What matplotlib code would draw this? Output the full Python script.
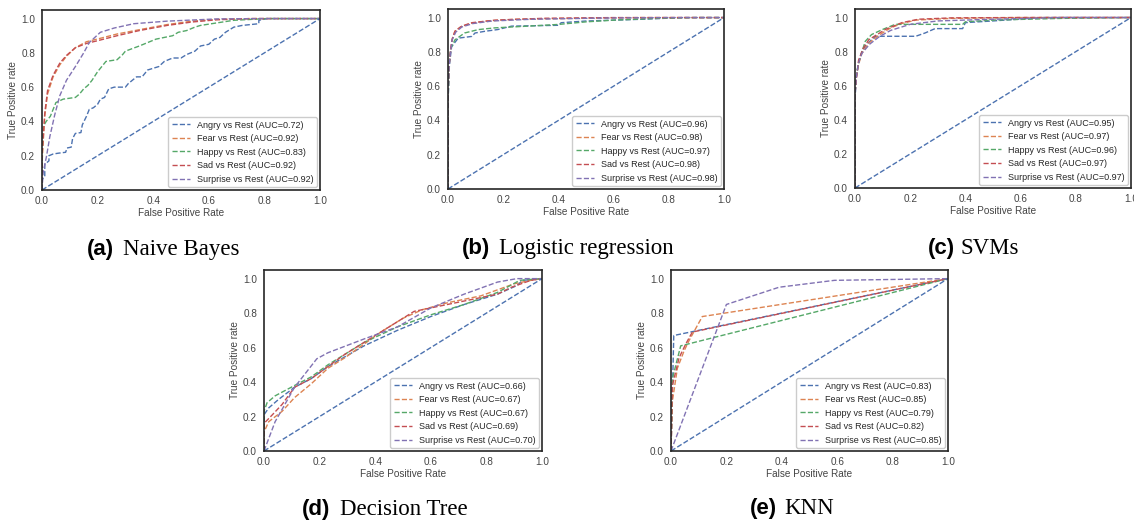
import numpy as np
import matplotlib
matplotlib.use("Agg")
import matplotlib.pyplot as plt

classes = ["Angry", "Fear", "Happy", "Sad", "Surprise"]
colors = ["#4c72b0", "#dd8452", "#55a868", "#c44e52", "#8172b3"]

# ---- (a) Naive Bayes: (fpr, tpr) points
nb_angry = [(0, 0), (0, .06), (.01, .08), (.01, .15), (.025, .17), (.025, .20), (.04, .21),
            (.06, .215), (.085, .22), (.09, .245), (.105, .25), (.11, .30), (.12, .33),
            (.14, .335), (.145, .38), (.16, .43), (.17, .47), (.185, .48), (.20, .50),
            (.21, .53), (.225, .54), (.24, .59), (.26, .60), (.30, .60), (.31, .62),
            (.34, .66), (.36, .66), (.38, .70), (.40, .71), (.42, .72), (.44, .75),
            (.47, .77), (.50, .77), (.52, .79), (.55, .81), (.57, .84), (.60, .85),
            (.62, .88), (.64, .89), (.66, .92), (.69, .95), (.72, .96), (.78, .97),
            (.78, .99), (.81, 1.0), (1, 1)]
nb_fear = [(0, 0), (0, .15), (.004, .27), (.01, .43), (.02, .56), (.04, .66), (.064, .73),
           (.088, .78), (.12, .83), (.16, .865), (.21, .885), (.27, .91), (.35, .935),
           (.45, .965), (.54, .985), (.63, .995), (.75, 1), (1, 1)]
nb_happy = [(0, 0), (0, .2), (.004, .37), (.015, .40), (.03, .43), (.04, .47), (.05, .51),
            (.076, .53), (.12, .54), (.135, .56), (.15, .59), (.165, .61), (.18, .64),
            (.20, .69), (.21, .71), (.23, .75), (.27, .76), (.29, .79), (.30, .81),
            (.35, .84), (.38, .86), (.41, .88), (.47, .90), (.49, .92), (.52, .93),
            (.55, .95), (.57, .96), (.63, .975), (.69, .99), (.81, 1.0), (1, 1)]
nb_sad = [(0, 0), (0, .2), (.004, .30), (.01, .45), (.02, .58), (.04, .67), (.064, .74),
          (.088, .785), (.12, .83), (.16, .855), (.21, .875), (.27, .90), (.35, .93),
          (.45, .96), (.54, .98), (.63, .993), (.75, 1), (1, 1)]
nb_surprise = [(0, 0), (.004, .1), (.016, .195), (.028, .31), (.046, .44), (.064, .55),
               (.088, .64), (.12, .72), (.15, .80), (.17, .86), (.21, .92), (.26, .945),
               (.33, .97), (.45, .985), (.63, .998), (.8, 1), (1, 1)]
nb_auc = [0.72, 0.92, 0.83, 0.92, 0.92]

# ---- (b) Logistic regression
lr_angry = [(0, 0), (0, .5), (.005, .72), (.013, .83), (.037, .88), (.086, .89), (.098, .91),
            (.134, .92), (.18, .93), (.23, .95), (.40, .955), (.41, .97), (.5, .98),
            (.7, .99), (.85, 1), (1, 1)]
lr_fear = [(0, 0), (0, .55), (.004, .72), (.01, .81), (.015, .87), (.025, .92), (.045, .945),
           (.08, .965), (.14, .98), (.24, .99), (.48, .996), (.7, 1), (1, 1)]
lr_happy = [(0, 0), (0, .5), (.005, .75), (.01, .82), (.025, .87), (.06, .91), (.11, .93),
            (.17, .94), (.29, .95), (.4, .96), (.5, .975), (.6, .985), (.75, .995),
            (.9, 1), (1, 1)]
lr_sad = [(0, 0), (0, .55), (.004, .73), (.01, .82), (.015, .875), (.025, .92), (.05, .95),
          (.086, .97), (.17, .985), (.35, .996), (.6, 1), (1, 1)]
lr_surprise = [(0, 0), (0, .55), (.004, .72), (.01, .81), (.015, .87), (.028, .915),
               (.05, .945), (.09, .965), (.16, .98), (.3, .99), (.55, .997), (.8, 1), (1, 1)]
lr_auc = [0.96, 0.98, 0.97, 0.98, 0.98]

# ---- (c) SVMs
svm_angry = [(0, 0), (0, .52), (.005, .65), (.015, .75), (.025, .8), (.04, .84), (.074, .89),
             (.22, .89), (.255, .91), (.29, .935), (.39, .935), (.40, .97), (.50, .98),
             (.68, 1), (1, 1)]
svm_fear = [(0, 0), (0, .55), (.004, .64), (.012, .72), (.025, .79), (.05, .85), (.09, .90),
            (.13, .94), (.17, .965), (.22, .985), (.35, .995), (.6, 1), (1, 1)]
svm_happy = [(0, 0), (0, .55), (.004, .65), (.012, .73), (.037, .86), (.06, .90), (.1, .93),
             (.146, .96), (.39, .96), (.40, .975), (.5, .985), (.75, .995), (1, 1)]
svm_sad = [(0, 0), (0, .55), (.004, .63), (.013, .75), (.03, .82), (.05, .87), (.11, .93),
           (.17, .97), (.23, .99), (.35, .998), (.6, 1), (1, 1)]
svm_surprise = [(0, 0), (0, .55), (.004, .64), (.012, .73), (.025, .79), (.054, .845),
                (.09, .89), (.13, .925), (.2, .96), (.3, .98), (.5, .99), (.75, 1), (1, 1)]
svm_auc = [0.95, 0.97, 0.96, 0.97, 0.97]

# ---- (d) Decision Tree
dt_angry = [(0, 0), (0, .21), (.017, .25), (.053, .30), (.11, .37), (.17, .42), (.23, .49),
            (.36, .61), (.48, .70), (.60, .78), (.72, .85), (.84, .91), (.91, .96),
            (.93, .99), (1, 1)]
dt_fear = [(0, 0), (0, .11), (.017, .17), (.065, .23), (.11, .31), (.17, .39), (.23, .48),
           (.29, .54), (.36, .62), (.42, .69), (.50, .77), (.57, .82), (.66, .86),
           (.78, .90), (.90, .97), (.96, .99), (1, 1)]
dt_happy = [(0, 0), (0, .23), (.011, .28), (.04, .32), (.11, .38), (.17, .43), (.23, .50),
            (.36, .63), (.48, .72), (.60, .79), (.72, .85), (.84, .92), (.92, .99), (1, 1)]
dt_sad = [(0, 0), (0, .16), (.03, .21), (.065, .27), (.11, .37), (.17, .42), (.23, .49),
          (.29, .56), (.36, .63), (.42, .69), (.48, .75), (.54, .81), (.60, .83),
          (.72, .87), (.84, .91), (.89, .95), (.96, .99), (1, 1)]
dt_surprise = [(0, 0), (.04, .17), (.11, .37), (.19, .535), (.23, .57), (.36, .65),
               (.48, .72), (.60, .83), (.72, .91), (.84, .98), (.91, 1), (1, 1)]
dt_auc = [0.66, 0.67, 0.67, 0.69, 0.70]

# ---- (e) KNN
knn_angry = [(0, 0), (.01, .67), (1, 1)]
knn_fear = [(0, 0), (.005, .29), (.023, .48), (.047, .58), (.065, .64), (.113, .78), (1, 1)]
knn_happy = [(0, 0), (.005, .42), (.035, .61), (1, 1)]
knn_sad = [(0, 0), (.005, .38), (.029, .54), (.053, .62), (.077, .69), (1, 1)]
knn_surprise = [(0, 0), (.2, .85), (.39, .95), (.59, .99), (1, 1)]
knn_auc = [0.83, 0.85, 0.79, 0.82, 0.85]

panels = [
    ("(a)", "Naive Bayes", [nb_angry, nb_fear, nb_happy, nb_sad, nb_surprise], nb_auc),
    ("(b)", "Logistic regression", [lr_angry, lr_fear, lr_happy, lr_sad, lr_surprise], lr_auc),
    ("(c)", "SVMs", [svm_angry, svm_fear, svm_happy, svm_sad, svm_surprise], svm_auc),
    ("(d)", "Decision Tree", [dt_angry, dt_fear, dt_happy, dt_sad, dt_surprise], dt_auc),
    ("(e)", "KNN", [knn_angry, knn_fear, knn_happy, knn_sad, knn_surprise], knn_auc),
]

# layout in pixels: axes box (left, top, right, bottom), caption (x tag, x name, baseline)
W, H = 1134, 523
boxes = [(42, 10, 320, 190), (448, 9, 724, 189), (855, 9, 1131, 188),
         (264, 270, 542, 451), (671, 270, 948, 451)]
captions = [(87, 123, 255), (462, 499, 254), (928, 960, 254),
            (302, 340, 515), (750, 784, 514)]

plt.rcParams["font.family"] = ["Liberation Sans", "DejaVu Sans"]
fig = plt.figure(figsize=(W / 100, H / 100), dpi=100)

for (tag, name, curves, aucs), (l, t, r, b), (xt, xn, yb) in zip(panels, boxes, captions):
    ax = fig.add_axes([l / W, 1 - b / H, (r - l) / W, (b - t) / H])
    for cls, col, curve, auc in zip(classes, colors, curves, aucs):
        fpr, tpr = zip(*curve)
        ax.plot(fpr, tpr, "--", color=col, lw=1.0,
                label=f"{cls} vs Rest (AUC={auc:.2f})")
    ax.plot([0, 1], [0, 1], "--", color=colors[0], lw=1.0)
    ax.set_xlim(0, 1)
    ax.set_ylim(0, 1.05)
    ax.set_xticks(np.arange(0, 1.01, 0.2))
    ax.set_yticks(np.arange(0, 1.01, 0.2))
    ax.tick_params(length=0, labelsize=7.2, colors="#444444")
    ax.tick_params(axis="x", pad=4)
    ax.tick_params(axis="y", pad=5)
    for s in ax.spines.values():
        s.set_color("#262626")
        s.set_linewidth(1.2)
    ax.set_xlabel("False Positive Rate", fontsize=7.2, color="#444444", labelpad=2)
    ax.set_ylabel("True Positive rate", fontsize=7.2, color="#444444", labelpad=2.5)
    leg = ax.legend(loc="lower right", fontsize=6.5, frameon=True, framealpha=1,
                    edgecolor="#cccccc", borderaxespad=0.3)
    for txt in leg.get_texts():
        txt.set_color("#262626")

    fig.text(xt / W, 1 - yb / H, tag, fontsize=16, fontweight="bold",
             family="Liberation Sans", va="baseline", ha="left")
    fig.text(xn / W, 1 - yb / H, name, fontsize=16.5,
             family="Liberation Serif", va="baseline", ha="left")

fig.savefig("out.png", dpi=100)
